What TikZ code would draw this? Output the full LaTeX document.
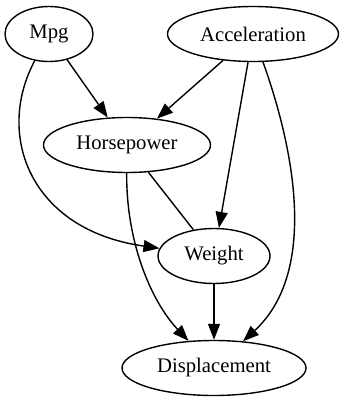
\documentclass[tikz,border=0pt]{standalone}
\usepackage{fontspec}
\setmainfont{Liberation Serif}
\usetikzlibrary{shapes.geometric,arrows.meta}

\begin{document}
\begin{tikzpicture}[x=1pt, y=-1pt, line width=1.4pt,
    var/.style={ellipse, draw, inner sep=0pt, minimum height=55pt,
        font=\fontsize{20.7}{24}\selectfont},
    dep/.style={-{Triangle[length=16pt, width=12pt]}}]
    \useasboundingbox (0,0) rectangle (340,399);

    \node[var, minimum width=88pt] (mpg) at (49,34) {Mpg};
    \node[var, minimum width=171pt] (acc) at (253,34) {Acceleration};
    \node[var, minimum width=167pt] (hp) at (127,145) {Horsepower};
    \node[var, minimum width=112pt] (wt) at (214,256) {Weight};
    \node[var, minimum width=184pt] (disp) at (214,368) {Displacement};

    \draw[dep] (mpg) .. controls (-5,135) and (30,230) .. (wt);
    \draw[dep] (mpg) -- (hp);
    \draw[dep] (acc) -- (hp);
    \draw[dep] (acc) -- (wt);
    \draw[dep] (acc) .. controls (298,160) and (315,275) .. (disp);
    \draw (hp) -- (wt);
    \draw[dep] (hp) .. controls (126,240) and (150,300) .. (disp);
    \draw[dep] (wt) -- (disp);

\end{tikzpicture}
\end{document}
